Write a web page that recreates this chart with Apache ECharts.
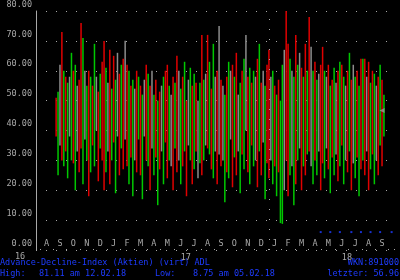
<!DOCTYPE html>
<html><head><meta charset="utf-8">
<script src="https://cdn.jsdelivr.net/npm/echarts@6/dist/echarts.min.js"></script>
<style>html,body{margin:0;padding:0;background:#000}#c{width:400px;height:280px}</style>
</head><body><div id="c"></div>
<script>
// month letters (Aug 2016 .. Sep 2018)
const months = ['A','S','O','N','D','J','F','M','A','M','J','J','A','S','O','N','D','J','F','M','A','M','J','J','A','S'];
const years = [{slot:75, text:'17'}, {slot:159, text:'18'}];
const yTickLabels = ['0.00','10.00','20.00','30.00','40.00','50.00','60.00','70.00','80.00'];
const firstSlot = 10;
// daily ranges (low / high) per slot, starting at firstSlot
const lows = [
 38,25,35,30,28,33,
 24,38,30,29,20,33,26,
 34,22,37,30,18,26,35,
 28,40,23,34,30,20,26,
 33,22,30,36,19,38,25,
 34,27,37,28,22,31,18,
 30,26,37,25,17,38,30,
 28,20,34,25,31,15,27,
 33,22,36,24,30,28,20,
 34,26,30,22,28,33,18,
 35,30,22,27,33,24,29,
 25,30,35,34,32,27,24,
 33,22,32,28,30,16,26,
 24,37,21,31,25,33,19,
 32,27,40,26,22,35,28,
 30,21,33,25,36,17,29,
 24,30,22,28,18,26,9,
 8.75,20,30,18,25,28,15,
 22,30,34,20,28,25,32,
 33,28,22,30,25,33,20,
 29,24,34,27,19,31,25,
 32,23,28,35,22,30,26,
 33,20,29,24,31,18,27,
 30,25,33,20,27,32,22,
 30,25,35,28,38
];
const highs = [
 51,53,62,73,60,58,
 56,58,66,60,62,55,57,
 76,71,60,55,60,58,55,
 69,58,53,59,63,70,61,
 56,67,54,65,57,66,59,
 62,64,70,62,60,55,57,
 54,60,58,55,52,57,62,
 59,55,60,52,57,50,53,
 55,58,60,62,55,52,58,
 56,65,60,54,58,63,50,
 57,61,55,59,56,50,56,
 72,57,59,72,63,54,69,
 58,60,75,57,55,52,58,
 63,60,62,58,66,52,56,
 60,64,72,58,61,56,60,
 58,64,69,56,60,55,62,
 67,58,60,55,52,57,50,
 62,67,81.11,69,64,60,58,
 72,62,66,61,58,69,60,
 78,68,60,63,57,59,62,
 68,60,58,62,55,57,61,
 56,60,63,62,58,55,60,
 66,57,62,58,60,55,64,
 64,64,58,63,56,60,59,
 55,58,62,57,52
];
// r = down (red), g = up (green), n = unchanged (gray)
const dirs = 'rgnrgr' + 'gngrgnr' + 'rgngrgr' + 'gnrgrrg' + 'nrgrgnr' + 'grnrgrg' + 'nrgrgnr' + 'grngrgr' + 'ngrrgnr' +
 'grngrgr' + 'ngrgrng' + 'rgnrgrg' + 'nrnrngr' + 'gnrgrng' + 'rgnrgrg' + 'nrgrngr' + 'rngrgrg' + 'gnrrgng' +
 'rgnrgrg' + 'rngrgnr' + 'rgnrgrg' + 'nrgrgnr' + 'grngrgr' + 'grnrgrg' + 'nrgrg';

const N = 187;
const cats = Array.from({length:N}, (_, i) => String(i));
const colorOf = {r:'#e00000', g:'#00c800', n:'#8c8c8c'};
const base = cats.map(() => '-');
const span = cats.map(() => '-');
lows.forEach((lo, k) => {
  base[firstSlot + k] = lo;
  span[firstSlot + k] = {value: +(highs[k] - lo).toFixed(2), itemStyle:{color: colorOf[dirs[k]]}};
});
// blue indicator dots
const blueSlots = [148,153,158,164,169,174,179,185];
const blueVal = 6;
const blue = cats.map(() => '-');
blueSlots.forEach(s => blue[s] = blueVal);
const lastSlot = 180, lastVal = 46.7;
const lastMark = cats.map(() => '-'); lastMark[lastSlot] = lastVal;
const yearSepSlot = 121;

const FONT = 'DejaVu Sans Mono';
const GRAY = '#a8a8a8';
const BLUE = '#1e3cff';
const chart = echarts.init(document.getElementById('c'), null, {renderer:'canvas'});
chart.setOption({
  backgroundColor:'#000',
  animation:false,
  grid:{left:36, right:5.5, top:10, bottom:30},
  xAxis:[{
    type:'category', data:cats, boundaryGap:true,
    axisLine:{show:false},
    axisTick:{show:true, inside:true, length:1, interval:(i)=> (i-2)%7===0 && i>=2, lineStyle:{color:GRAY}},
    axisLabel:{show:true, inside:true, margin:2, interval:(i)=> i>=5 && (i-5)%7===0 && (i-5)/7 < months.length,
      formatter:(v, i)=> months[(i-5)/7], color:GRAY, fontFamily:FONT, fontSize:8.5, verticalAlign:'bottom'},
    splitLine:{show:false}
  },{
    type:'category', data:cats, boundaryGap:true, position:'bottom',
    axisLine:{show:false}, axisTick:{show:false}, splitLine:{show:false},
    axisLabel:{show:true, margin:3, interval:(i)=> years.some(y=>y.slot===i),
      formatter:(v,i)=> (years.find(y=>y.slot===i)||{}).text, align:'left', color:GRAY, fontFamily:FONT, fontSize:8.5}
  }],
  yAxis:{type:'value', min:0, max:80, interval:10,
    axisLine:{show:true, lineStyle:{color:GRAY}}, axisTick:{show:false},
    axisLabel:{formatter:(v)=> yTickLabels[v/10], color:GRAY, fontFamily:FONT, fontSize:8.5, margin:4, verticalAlign:'bottom', padding:[0,0,2,0]},
    splitLine:{show:true, lineStyle:{color:GRAY, type:[1,9], width:1}}
  },
  series:[
    {type:'bar', stack:'r', data:base, barWidth:1.5, itemStyle:{color:'transparent'}, silent:true,
      markLine:{silent:true, symbol:'none', label:{show:false},
        lineStyle:{color:GRAY, type:[1,9], width:1}, data:[{xAxis:yearSepSlot}]}},
    {type:'bar', stack:'r', data:span, barWidth:1.5},
    {type:'scatter', data:blue, symbol:'rect', symbolSize:2, itemStyle:{color:BLUE}},
    {type:'scatter', data:lastMark, symbol:'triangle', symbolRotate:90, symbolSize:5, itemStyle:{color:'#9a9a9a'}}
  ],
  graphic:[
    {type:'text', left:15, top:252, style:{text:'16', fill:GRAY, font:'8.5px "DejaVu Sans Mono"'}},
    {type:'text', left:0, top:258, style:{text:'Advance-Decline-Index (Aktien) (virt) ADL', fill:BLUE, font:'8.5px "DejaVu Sans Mono"'}},
    {type:'text', right:1, top:258, style:{text:'WKN:891000', fill:BLUE, font:'8.5px "DejaVu Sans Mono"'}},
    {type:'text', left:0, top:269, style:{text:'High:', fill:BLUE, font:'8.5px "DejaVu Sans Mono"'}},
    {type:'text', left:39, top:269, style:{text:'81.11 am 12.02.18', fill:BLUE, font:'8.5px "DejaVu Sans Mono"'}},
    {type:'text', left:155, top:269, style:{text:'Low:', fill:BLUE, font:'8.5px "DejaVu Sans Mono"'}},
    {type:'text', left:193, top:269, style:{text:'8.75 am 05.02.18', fill:BLUE, font:'8.5px "DejaVu Sans Mono"'}},
    {type:'text', right:1, top:269, style:{text:'letzter: 56.96', fill:BLUE, font:'8.5px "DejaVu Sans Mono"'}}
  ]
});
</script></body></html>
